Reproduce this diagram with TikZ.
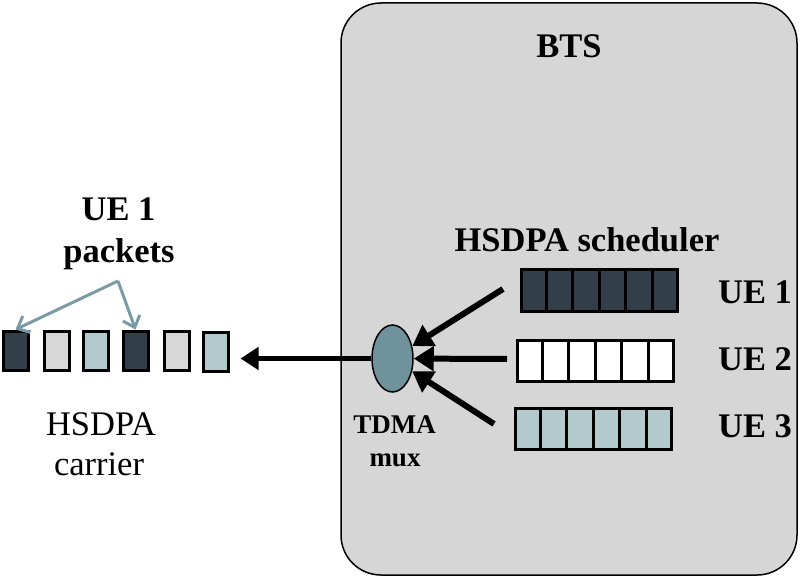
\documentclass[tikz,border=0pt]{standalone}
\usepackage{fontspec}
\setmainfont{Liberation Serif}
\usetikzlibrary{shapes.geometric,arrows.meta,calc}
\definecolor{btsgray}{HTML}{D6D6D6}
\definecolor{darkq}{HTML}{323F4B}
\definecolor{lightq}{HTML}{B3CACD}
\definecolor{paleq}{HTML}{D7D7D7}
\definecolor{muxfill}{HTML}{6F929D}
\definecolor{pointer}{HTML}{7A9AA6}
\tikzset{
  bigtxt/.style={font=\bfseries\fontsize{34.5}{38}\selectfont, anchor=base, inner sep=0pt},
  regtxt/.style={font=\fontsize{34.5}{38}\selectfont, anchor=base, inner sep=0pt},
  muxtxt/.style={font=\bfseries\fontsize{27}{30}\selectfont, anchor=base, inner sep=0pt},
  packet/.style={draw=black, line width=3pt, minimum width=25pt, minimum height=39pt, inner sep=0pt, anchor=north west},
  queue/.style={draw=black, line width=3pt, minimum width=156pt, minimum height=41pt, inner sep=0pt, anchor=north west},
  feed/.style={line width=6pt, -{Triangle[length=20pt,width=24pt]}},
  ptr/.style={draw=pointer, line width=3pt, -{Straight Barb[length=10pt,width=18pt]}}
}
\begin{document}
\begin{tikzpicture}[x=1pt,y=-1pt]
\useasboundingbox (0,0) rectangle (800,577);
% BTS box
\draw[fill=btsgray, line width=1.5pt, rounded corners=40pt] (341,3) rectangle (797,575);
\node[bigtxt] (bts) at (569,58) {BTS};
\node[bigtxt] (sched) at (587,252) {HSDPA scheduler};
% queues
\node[queue, fill=darkq] (q1) at (519.5,268.5) {};
\node[queue, fill=white] (q2) at (515.5,338.5) {};
\node[queue, fill=lightq] (q3) at (513.5,406.5) {};
\foreach \q in {q1,q2,q3}{
  \foreach \k in {1,...,5}{
    \draw[line width=3pt] ($(\q.north west)!\k/6!(\q.north east)$) -- ($(\q.south west)!\k/6!(\q.south east)$);
  }
}
\node[bigtxt] (l1) at (755,303) {UE 1};
\node[bigtxt] (l2) at (755,370) {UE 2};
\node[bigtxt] (l3) at (755,437) {UE 3};
% mux
\node[ellipse, draw=black, line width=1.5pt, fill=muxfill, minimum width=41pt, minimum height=67pt, inner sep=0pt] (mux) at (392.5,358.5) {};
\node[muxtxt] (tdma) at (394.5,433) {TDMA};
\node[muxtxt] (muxl) at (395,466) {mux};
\coordinate (a1) at (503,289);
\coordinate (a2) at (507,359);
\coordinate (a3) at (494,424);
\draw[feed] (a1) -- (mux);
\draw[feed] (a2) -- (mux);
\draw[feed] (a3) -- (mux);
% packets
\node[packet, fill=darkq] (p1) at (1.5,329.5) {};
\node[packet, fill=paleq] (p2) at (42.5,329.5) {};
\node[packet, fill=lightq] (p3) at (81.5,330) {};
\node[packet, fill=darkq] (p4) at (121.5,329.5) {};
\node[packet, fill=paleq] (p5) at (162.5,330) {};
\node[packet, fill=lightq] (p6) at (201.5,331) {};
\draw[line width=5pt, -{Triangle[length=18pt,width=22pt]}, shorten >=11pt] (mux.west) -- (p6.east |- mux.west);
% UE1 packets
\node[bigtxt] (ue1p) at (118.5,221) {UE 1};
\node[bigtxt] (pk) at (119,262) {packets};
\coordinate (fork) at (118,281);
\draw[ptr] (fork) -- (p1.north);
\draw[ptr] (fork) -- (p4.north);
\node[regtxt] (car1) at (101,435) {HSDPA};
\node[regtxt] (car2) at (99,475) {carrier};
\end{tikzpicture}
\end{document}
